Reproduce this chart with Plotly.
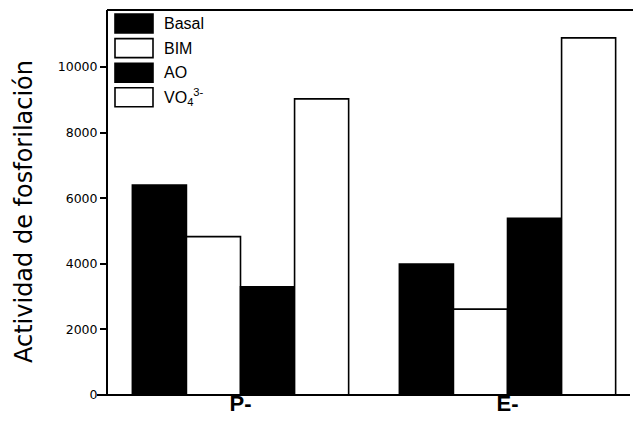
import plotly.graph_objects as go

# ---- data ----
categories = ["P-", "E-"]
series_names = ["Basal", "BIM", "AO", "VO<sub>4</sub><sup>3-</sup>"]
basal = [6400, 3990]
bim = [4830, 2620]
ao = [3300, 5390]
vo4 = [9030, 10890]
series_values = [basal, bim, ao, vo4]
series_fill = ["#000000", "#ffffff", "#000000", "#ffffff"]
y_ticks = [0, 2000, 4000, 6000, 8000, 10000]

W, H = 633, 422
ML, MR, MT, MB = 107, 0, 10, 27
PW, PH = W - ML - MR, H - MT - MB

def px_x(px):
    return (px - ML) / PW

def px_y(py):
    return (H - MB - py) / PH

fig = go.Figure()
for name, vals, col in zip(series_names, series_values, series_fill):
    fig.add_trace(go.Bar(
        x=categories, y=vals, name=name,
        marker=dict(color=col, line=dict(color="#000000", width=1.6)),
        showlegend=False,
    ))

# frame: the original plot box continues past the right edge of the image,
# so no right-hand border is visible
frame = dict(color="#000000", width=2)
shapes = [
    dict(type="rect", xref="paper", yref="paper", x0=px_x(624), x1=px_x(640),
         y0=-0.01, y1=1.01, fillcolor="#ffffff", line=dict(width=0), layer="above"),
    dict(type="line", xref="paper", yref="paper", x0=0, x1=px_x(640), y0=1, y1=1, line=frame, layer="above"),
    dict(type="line", xref="paper", yref="paper", x0=0, x1=0, y0=0, y1=1, line=frame, layer="above"),
    dict(type="line", xref="paper", yref="paper", x0=px_x(97), x1=px_x(630), y0=0, y1=0, line=frame, layer="above"),
]
annotations = []
# custom legend (large swatches like the original)
for i, (name, col) in enumerate(zip(series_names, series_fill)):
    cy = 23.5 + i * 24.6
    shapes.append(dict(
        type="rect", xref="paper", yref="paper",
        x0=px_x(115), x1=px_x(153), y0=px_y(cy - 9.5), y1=px_y(cy + 9.5),
        fillcolor=col, line=dict(color="#000000", width=1.6), layer="above",
    ))
    annotations.append(dict(
        text=name, xref="paper", yref="paper", x=px_x(162), y=px_y(cy),
        xanchor="left", yanchor="middle", showarrow=False,
        font=dict(family="Liberation Sans", size=16, color="#000000"),
    ))

annotations.append(dict(
    text="Actividad de fosforilación", xref="paper", yref="paper",
    x=px_x(24), y=px_y(212), textangle=-90, showarrow=False,
    xanchor="center", yanchor="middle",
    font=dict(family="DejaVu Sans", size=24, color="#000000"),
))

fig.update_layout(
    width=W, height=H,
    margin=dict(l=ML, r=MR, t=MT, b=MB, pad=0, autoexpand=False),
    paper_bgcolor="#ffffff", plot_bgcolor="#ffffff",
    barmode="group", bargap=0.19, bargroupgap=0,
    shapes=shapes, annotations=annotations,
    showlegend=False,
)
fig.update_xaxes(
    type="category", range=[-0.5, 1.47],
    showline=False, mirror=False,
    showgrid=False, ticks="", zeroline=False, automargin=False,
    ticklabelstandoff=-7,
    tickfont=dict(family="Liberation Sans", size=22, color="#000000", weight="bold"),
)
fig.update_yaxes(
    range=[0, 11740], tickvals=y_ticks, ticktext=[str(v) for v in y_ticks],
    showline=False, mirror=False,
    showgrid=False, zeroline=False, automargin=False,
    ticks="outside", ticklen=6, tickwidth=1.5, tickcolor="#000000",
    tickfont=dict(family="DejaVu Sans", size=12.5, color="#000000"),
)

fig.write_html("out.html")
